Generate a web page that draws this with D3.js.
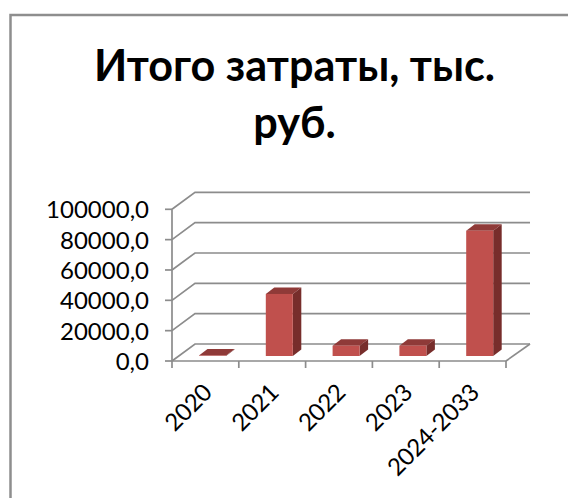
<!DOCTYPE html>
<html><head><meta charset="utf-8">
<script src="https://cdnjs.cloudflare.com/ajax/libs/d3/7.8.5/d3.min.js"></script>
<style>html,body{margin:0;padding:0;background:#fff}svg{display:block}text{font-family:Lato,Carlito,sans-serif;fill:#000}</style>
</head><body><div id="c"></div>
<script>
const categories = ["2020","2021","2022","2023","2024-2033"];
const values = [300,40900,6800,6800,82600];
const yTicks = [0,20000,40000,60000,80000,100000];
const titleLines = ["Итого затраты, тыс.","руб."];

const W=568,H=498;
const svg=d3.select("#c").append("svg").attr("width",W).attr("height",H);
const GRID="#8c8c8c";
const fmt=v=>d3.format(".1f")(v).replace(".",",");

// frame
svg.append("path").attr("d","M10.5,498V15H568").attr("fill","none").attr("stroke","#8e8e8e").attr("stroke-width",2.5);

titleLines.forEach((t,i)=>svg.append("text").attr("x",294.5).attr("y",[81,138][i]).attr("text-anchor","middle")
  .attr("font-size",43.2).attr("font-weight",700).text(t));

const x=d3.scaleBand().domain(categories).range([172,506]);
const y=d3.scaleLinear().domain([0,100000]).range([361,209.3]);
const wallDx=23,wallDy=-17;

// gridlines on walls
const g=svg.append("g").attr("fill","none").attr("stroke",GRID).attr("stroke-width",1.7);
yTicks.forEach(v=>{
  g.append("path").attr("d",`M${172},${y(v)}l${wallDx},${wallDy}H530`);
  g.append("path").attr("d",`M${165},${y(v)}H172`);
});
g.append("path").attr("d",`M506,361l${wallDx+1},${wallDy}`);
g.append("path").attr("d",`M172,${y(100000)}V${y(0)}H506`);
[...categories.map(c=>x(c)),506].forEach(px=>g.append("path").attr("d",`M${px},361v7`));

// bars
const barW=27,dx=8.5,dy=-6.5,offX=27,base=356;
const h=v=>y(0)-y(v);
const bars=svg.append("g").selectAll("g").data(categories.map((c,i)=>({c,v:values[i]}))).join("g");
bars.append("path").attr("fill","#8f3a38").attr("d",d=>{const l=x(d.c)+offX,t=base-h(d.v);return `M${l},${t}l${dx},${dy}h${barW}l${-dx},${-dy}z`;});
bars.append("path").attr("fill","#772d2b").attr("d",d=>{const l=x(d.c)+offX+barW,t=base-h(d.v);return `M${l},${t}l${dx},${dy}V${base+dy}l${-dx},${-dy}z`;});
bars.append("rect").attr("fill","#c0504d").attr("x",d=>x(d.c)+offX).attr("width",barW).attr("y",d=>base-h(d.v)).attr("height",d=>h(d.v));

// labels
svg.append("g").selectAll("text").data(yTicks).join("text").attr("x",149).attr("y",d=>y(d)+9).attr("text-anchor","end").attr("font-size",24).text(fmt);
svg.append("g").selectAll("text").data(categories).join("text")
 .attr("text-anchor","end").attr("font-size",24).style("letter-spacing","-0.3px")
 .attr("transform",d=>`translate(${x(d)+x.bandwidth()/2+8},${394}) rotate(-45)`).text(d=>d);
</script></body></html>
